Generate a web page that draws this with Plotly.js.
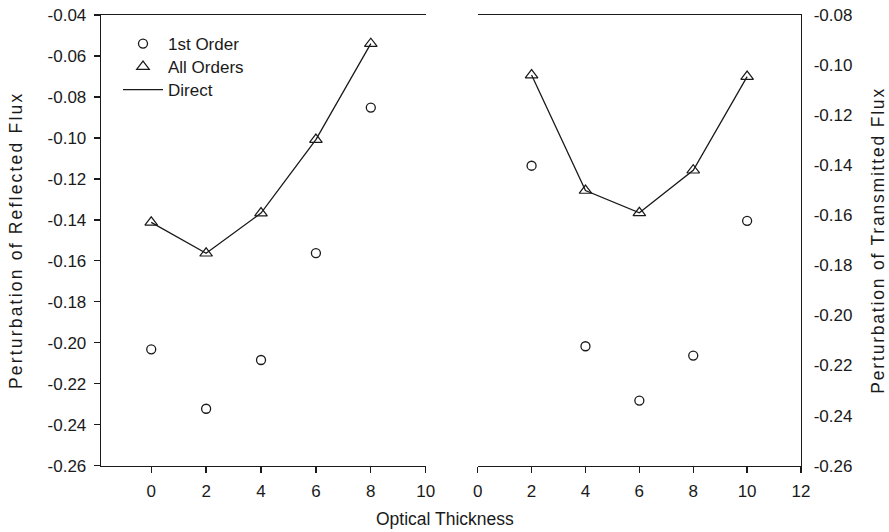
<!DOCTYPE html>
<html>
<head>
<meta charset="utf-8">
<script src="https://cdn.plot.ly/plotly-3.0.1.min.js"></script>
<style>
  html, body { margin: 0; padding: 0; background: #fff; }
  #chart { width: 889px; height: 532px; }
  .g-ytitle text { letter-spacing: 2.2px; }
  .g-y2title text { letter-spacing: 1.8px; }
</style>
</head>
<body>
<div id="chart"></div>
<script>
// ---- data ----
const thickReflected = [0, 2, 4, 6, 8];
const reflFirstOrder = [-0.2032, -0.2322, -0.2084, -0.1562, -0.0852];
const reflAllOrders  = [-0.1412, -0.1563, -0.1367, -0.1008, -0.0540];
const reflDirect     = [-0.1412, -0.1563, -0.1367, -0.1008, -0.0540];

const thickTransmitted = [2, 4, 6, 8, 10];
const transFirstOrder = [-0.1402, -0.2123, -0.2340, -0.2160, -0.1622];
const transAllOrders  = [-0.1040, -0.1501, -0.1590, -0.1420, -0.1046];
const transDirect     = [-0.1040, -0.1501, -0.1590, -0.1420, -0.1046];

const xTicksLeft  = [0, 2, 4, 6, 8, 10];
const xTicksRight = [0, 2, 4, 6, 8, 10, 12];
const yTickValsLeft  = [-0.26, -0.24, -0.22, -0.20, -0.18, -0.16, -0.14, -0.12, -0.10, -0.08, -0.06, -0.04];
const yTickTextLeft  = ['-0.26', '-0.24', '-0.22', '-0.20', '-0.18', '-0.16', '-0.14', '-0.12', '-0.10', '-0.08', '-0.06', '-0.04'];
const yTickValsRight = [-0.26, -0.24, -0.22, -0.20, -0.18, -0.16, -0.14, -0.12, -0.10, -0.08];
const yTickTextRight = ['-0.26', '-0.24', '-0.22', '-0.20', '-0.18', '-0.16', '-0.14', '-0.12', '-0.10', '-0.08'];

const seriesNames = ['1st Order', 'All Orders', 'Direct'];
const xTitle = 'Optical Thickness';
const yTitleLeft = 'Perturbation of Reflected Flux';
const yTitleRight = 'Perturbation of Transmitted Flux';

// ---- styling ----
const ink = '#1a1a1a';
const circleMarker = { symbol: 'circle-open', size: 9, color: ink, line: { width: 1.3, color: ink } };
const triMarker = { symbol: 'triangle-up-open', size: 11, color: ink, line: { width: 1.2, color: ink } };
const directLine = { color: ink, width: 1.3 };

const traces = [
  { x: thickReflected, y: reflDirect, mode: 'lines', line: directLine, name: seriesNames[2],
    xaxis: 'x', yaxis: 'y', showlegend: false },
  { x: thickReflected, y: reflFirstOrder, mode: 'markers', marker: circleMarker, name: seriesNames[0],
    xaxis: 'x', yaxis: 'y', legend: 'legend' },
  { x: thickReflected, y: reflAllOrders, mode: 'markers', marker: triMarker, name: seriesNames[1],
    xaxis: 'x', yaxis: 'y', legend: 'legend2' },
  { x: [null], y: [null], mode: 'lines', line: directLine, name: seriesNames[2],
    xaxis: 'x', yaxis: 'y', legend: 'legend3' },
  { x: thickTransmitted, y: transDirect, mode: 'lines', line: directLine, name: seriesNames[2],
    xaxis: 'x2', yaxis: 'y2', showlegend: false },
  { x: thickTransmitted, y: transFirstOrder, mode: 'markers', marker: circleMarker, name: seriesNames[0],
    xaxis: 'x2', yaxis: 'y2', showlegend: false },
  { x: thickTransmitted, y: transAllOrders, mode: 'markers', marker: triMarker, name: seriesNames[1],
    xaxis: 'x2', yaxis: 'y2', showlegend: false }
];

const W = 889, H = 532;
const yDom = [1 - 465.7 / H, 1 - 15 / H];
const axisCommon = {
  showgrid: false, zeroline: false, showline: true, linecolor: ink, linewidth: 1.3,
  tickcolor: ink, tickwidth: 1.3, tickfont: { size: 17, color: ink }
};
function legendAt(yPx) {
  return {
    x: 118 / W, y: 1 - yPx / H, xanchor: 'left', yanchor: 'middle',
    bgcolor: 'rgba(0,0,0,0)', borderwidth: 0, font: { size: 17, color: ink },
    itemwidth: 40
  };
}

const layout = {
  width: W, height: H,
  margin: { l: 0, r: 0, t: 0, b: 0 },
  paper_bgcolor: '#fff', plot_bgcolor: '#fff',
  font: { family: 'Liberation Sans, Arial, sans-serif', size: 17, color: ink },
  showlegend: true,
  legend: legendAt(44),
  legend2: legendAt(67),
  legend3: legendAt(90),
  xaxis: Object.assign({}, axisCommon, {
    domain: [101 / W, 425.7 / W], range: [-1.83, 10], anchor: 'y',
    tickvals: xTicksLeft, ticks: 'outside', ticklen: 6, mirror: true, ticklabelstandoff: 4
  }),
  yaxis: Object.assign({}, axisCommon, {
    domain: yDom, range: [-0.26, -0.04], anchor: 'x',
    tickvals: yTickValsLeft, ticktext: yTickTextLeft, ticks: 'outside', ticklen: 6,
    ticklabelstandoff: 4,
    title: { text: yTitleLeft, standoff: 20, font: { size: 17.5, color: ink } }
  }),
  xaxis2: Object.assign({}, axisCommon, {
    domain: [477.7 / W, 801 / W], range: [0, 12], anchor: 'y2',
    tickvals: xTicksRight, ticks: 'outside', ticklen: 6, mirror: true, ticklabelstandoff: 4
  }),
  yaxis2: Object.assign({}, axisCommon, {
    domain: yDom, range: [-0.26, -0.08], anchor: 'x2', side: 'right',
    tickvals: yTickValsRight, ticktext: yTickTextRight, ticks: '', ticklabelstandoff: 8,
    title: { text: yTitleRight, standoff: 20, font: { size: 17.5, color: ink } }
  }),
  annotations: [
    { text: xTitle, xref: 'paper', yref: 'paper', x: 445 / W, y: 1 - 519 / H,
      xanchor: 'center', yanchor: 'middle', showarrow: false, font: { size: 17.5, color: ink } }
  ]
};

Plotly.newPlot('chart', traces, layout, { staticPlot: true, displayModeBar: false });
</script>
</body>
</html>
